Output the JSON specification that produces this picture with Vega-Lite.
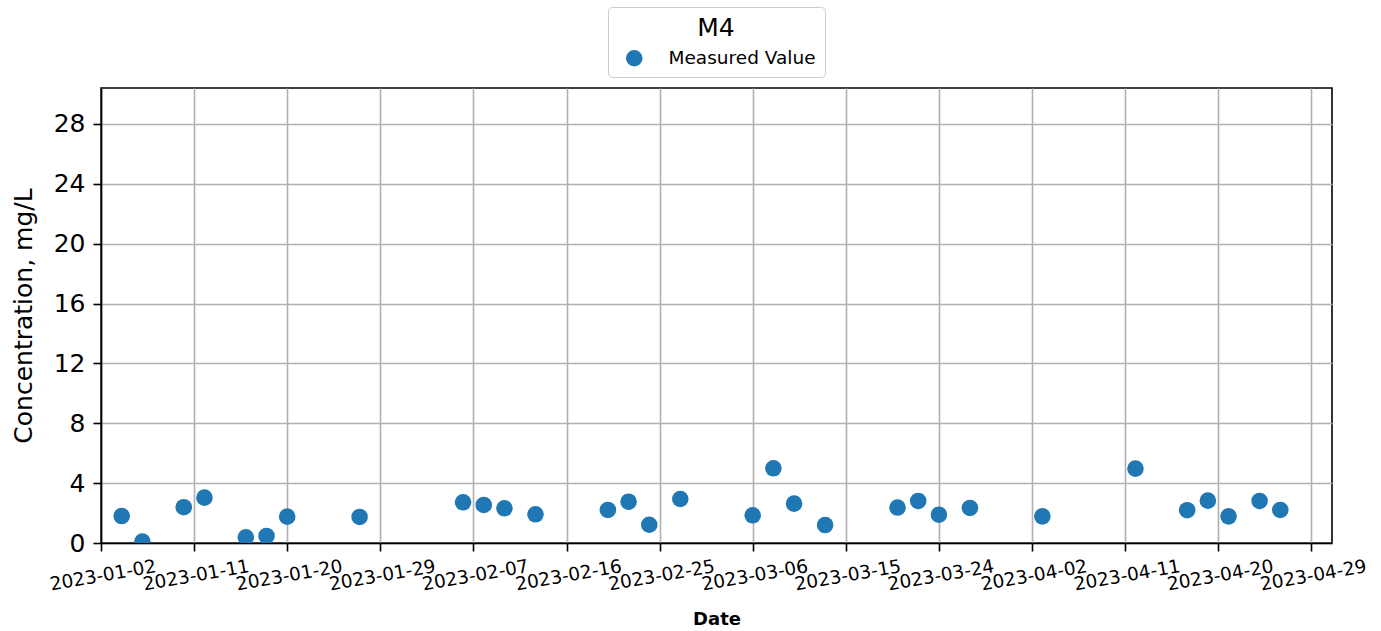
{
  "$schema": "https://vega.github.io/schema/vega-lite/v6.json",
  "width": 1231,
  "height": 455,
  "autosize": {"type": "none"},
  "padding": {"left": 101, "top": 88, "right": 49, "bottom": 88},
  "background": "white",
  "config": {
    "font": "DejaVu Sans",
    "view": {"stroke": "black", "strokeWidth": 1.6},
    "axis": {
      "domainColor": "black",
      "domainWidth": 1.6,
      "tickColor": "black",
      "tickWidth": 1.6,
      "tickSize": 8,
      "labelColor": "black",
      "titleColor": "black",
      "gridColor": "#b0b0b0",
      "gridWidth": 1.6,
      "labelFont": "DejaVu Sans",
      "titleFont": "DejaVu Sans"
    },
    "legend": {"labelFont": "DejaVu Sans", "titleFont": "DejaVu Sans"}
  },
  "data": {
    "values": [
      {"date": "2023-01-04", "value": 1.80, "series": "Measured Value"},
      {"date": "2023-01-06", "value": 0.10, "series": "Measured Value"},
      {"date": "2023-01-10", "value": 2.39, "series": "Measured Value"},
      {"date": "2023-01-12", "value": 3.03, "series": "Measured Value"},
      {"date": "2023-01-16", "value": 0.38, "series": "Measured Value"},
      {"date": "2023-01-18", "value": 0.47, "series": "Measured Value"},
      {"date": "2023-01-20", "value": 1.76, "series": "Measured Value"},
      {"date": "2023-01-27", "value": 1.74, "series": "Measured Value"},
      {"date": "2023-02-06", "value": 2.72, "series": "Measured Value"},
      {"date": "2023-02-08", "value": 2.54, "series": "Measured Value"},
      {"date": "2023-02-10", "value": 2.32, "series": "Measured Value"},
      {"date": "2023-02-13", "value": 1.92, "series": "Measured Value"},
      {"date": "2023-02-20", "value": 2.21, "series": "Measured Value"},
      {"date": "2023-02-22", "value": 2.76, "series": "Measured Value"},
      {"date": "2023-02-24", "value": 1.22, "series": "Measured Value"},
      {"date": "2023-02-27", "value": 2.94, "series": "Measured Value"},
      {"date": "2023-03-06", "value": 1.85, "series": "Measured Value"},
      {"date": "2023-03-08", "value": 4.99, "series": "Measured Value"},
      {"date": "2023-03-10", "value": 2.63, "series": "Measured Value"},
      {"date": "2023-03-13", "value": 1.20, "series": "Measured Value"},
      {"date": "2023-03-20", "value": 2.37, "series": "Measured Value"},
      {"date": "2023-03-22", "value": 2.81, "series": "Measured Value"},
      {"date": "2023-03-24", "value": 1.89, "series": "Measured Value"},
      {"date": "2023-03-27", "value": 2.34, "series": "Measured Value"},
      {"date": "2023-04-03", "value": 1.78, "series": "Measured Value"},
      {"date": "2023-04-12", "value": 4.97, "series": "Measured Value"},
      {"date": "2023-04-17", "value": 2.19, "series": "Measured Value"},
      {"date": "2023-04-19", "value": 2.83, "series": "Measured Value"},
      {"date": "2023-04-21", "value": 1.78, "series": "Measured Value"},
      {"date": "2023-04-24", "value": 2.81, "series": "Measured Value"},
      {"date": "2023-04-26", "value": 2.21, "series": "Measured Value"}
    ]
  },
  "mark": {"type": "point", "filled": true, "opacity": 1, "size": 275, "clip": true, "strokeWidth": 0},
  "encoding": {
    "x": {
      "field": "date",
      "type": "temporal",
      "scale": {
        "type": "utc",
        "domain": [
          {"year": 2023, "month": 1, "date": 2, "utc": true},
          {"year": 2023, "month": 5, "date": 1, "utc": true}
        ]
      },
      "axis": {
        "title": "Date",
        "titleFontSize": 18,
        "titleFontWeight": "bold",
        "titlePadding": 17,
        "format": "%Y-%m-%d",
        "labelFontSize": 18.5,
        "labelAngle": -10,
        "labelAlign": "center",
        "labelBaseline": "top",
        "labelPadding": 15,
        "labelOverlap": false,
        "labelFlush": false,
        "values": [
          {"year": 2023, "month": 1, "date": 2, "utc": true},
          {"year": 2023, "month": 1, "date": 11, "utc": true},
          {"year": 2023, "month": 1, "date": 20, "utc": true},
          {"year": 2023, "month": 1, "date": 29, "utc": true},
          {"year": 2023, "month": 2, "date": 7, "utc": true},
          {"year": 2023, "month": 2, "date": 16, "utc": true},
          {"year": 2023, "month": 2, "date": 25, "utc": true},
          {"year": 2023, "month": 3, "date": 6, "utc": true},
          {"year": 2023, "month": 3, "date": 15, "utc": true},
          {"year": 2023, "month": 3, "date": 24, "utc": true},
          {"year": 2023, "month": 4, "date": 2, "utc": true},
          {"year": 2023, "month": 4, "date": 11, "utc": true},
          {"year": 2023, "month": 4, "date": 20, "utc": true},
          {"year": 2023, "month": 4, "date": 29, "utc": true}
        ]
      }
    },
    "y": {
      "field": "value",
      "type": "quantitative",
      "scale": {"domain": [0, 30.4], "nice": false, "zero": true},
      "axis": {
        "title": "Concentration, mg/L",
        "titleFontSize": 25,
        "titleFontWeight": "normal",
        "titlePadding": 17,
        "labelFontSize": 25,
        "labelPadding": 8,
        "values": [0, 4, 8, 12, 16, 20, 24, 28]
      }
    },
    "color": {
      "field": "series",
      "type": "nominal",
      "scale": {"range": ["#1f77b4"]},
      "legend": {
        "title": "M4",
        "orient": "none",
        "legendX": 507,
        "legendY": -81,
        "titleFontSize": 25,
        "titleFontWeight": "normal",
        "titleColor": "black",
        "titleAnchor": "middle",
        "titleAlign": "center",
        "titlePadding": 8,
        "labelFontSize": 18.5,
        "labelColor": "black",
        "labelOffset": 25,
        "symbolSize": 275,
        "symbolType": "circle",
        "symbolOffset": 8,
        "symbolStrokeWidth": 0,
        "padding": 9,
        "strokeColor": "#cccccc",
        "fillColor": "white",
        "cornerRadius": 4
      }
    }
  }
}
